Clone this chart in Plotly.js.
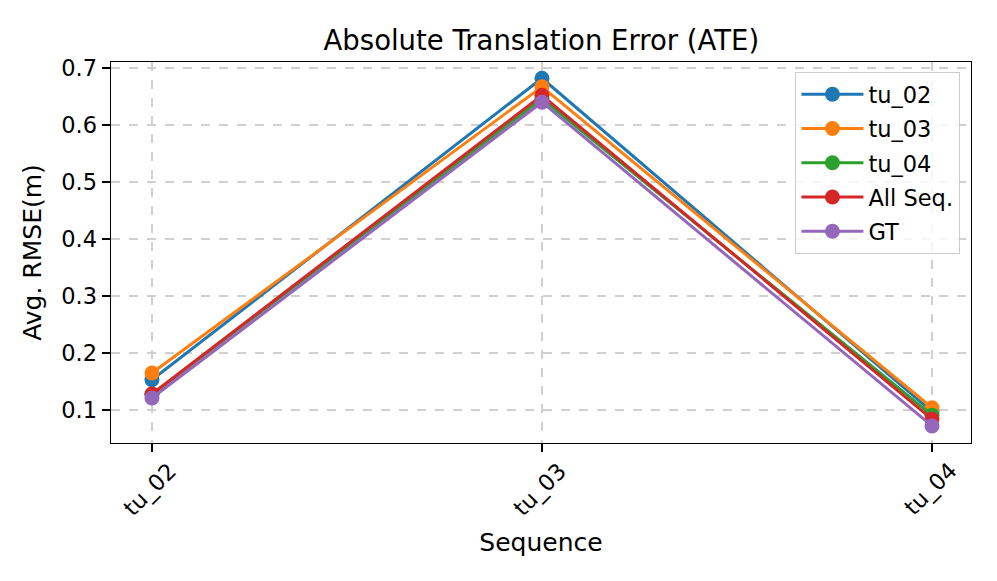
<!DOCTYPE html>
<html>
<head>
<meta charset="utf-8">
<script src="https://cdn.plot.ly/plotly-3.0.1.min.js"></script>
<style>html,body{margin:0;padding:0;background:#fff;}#chart{width:997px;height:581px;}</style>
</head>
<body>
<div id="chart"></div>
<script>
const sequences = ["tu_02", "tu_03", "tu_04"];
const seriesNames = ["tu_02", "tu_03", "tu_04", "All Seq.", "GT"];
const tu02 = [0.153, 0.682, 0.097];
const tu03 = [0.165, 0.667, 0.104];
const tu04 = [0.127, 0.646, 0.091];
const allSeq = [0.128, 0.652, 0.084];
const gt = [0.121, 0.640, 0.072];
const yTicks = [0.1, 0.2, 0.3, 0.4, 0.5, 0.6, 0.7];
const yTickLabels = ["0.1", "0.2", "0.3", "0.4", "0.5", "0.6", "0.7"];
const colors = ["#1f77b4", "#ff7f0e", "#2ca02c", "#d62728", "#9467bd"];
const values = [tu02, tu03, tu04, allSeq, gt];

const traces = values.map((v, i) => ({
  x: sequences,
  y: v,
  name: seriesNames[i],
  legendgroup: "g" + i,
  type: "scatter",
  mode: "lines+markers",
  line: {color: colors[i], width: 3},
  marker: {color: colors[i], size: 15}
}));

const font = "DejaVu Sans, sans-serif";
const tickAnnotations = sequences.map(s => ({
  x: s, xref: "x", y: 0, yref: "paper",
  text: s, showarrow: false, textangle: -45,
  xanchor: "center", yanchor: "middle",
  xshift: -2, yshift: -46,
  font: {family: font, size: 22.5, color: "#000"}
}));

const layout = {
  width: 997, height: 581,
  margin: {l: 111, r: 26, t: 62, b: 138},
  paper_bgcolor: "#fff", plot_bgcolor: "#fff",
  font: {family: font, size: 22.5, color: "#000"},
  title: {text: "Absolute Translation Error (ATE)", font: {family: font, size: 27.5}, x: 0.543, xanchor: "center", y: 0.931, yanchor: "middle", yref: "container"},
  xaxis: {
    type: "category",
    range: [-0.105, 2.1],
    showticklabels: false,
    ticks: "outside", ticklen: 8, tickcolor: "#000", tickwidth: 1.2,
    showline: true, linecolor: "#000", linewidth: 1.4, mirror: true,
    showgrid: true, gridcolor: "#d0d0d0", griddash: "dash", gridwidth: 1.2,
    zeroline: false,
    title: {text: "Sequence", font: {size: 25}, standoff: 82}
  },
  yaxis: {
    range: [0.0421, 0.7105],
    tickvals: yTicks,
    ticktext: yTickLabels,
    ticks: "outside", ticklen: 8, tickcolor: "#000", tickwidth: 1.2,
    showline: true, linecolor: "#000", linewidth: 1.4, mirror: true,
    showgrid: true, gridcolor: "#d0d0d0", griddash: "dash", gridwidth: 1.2,
    zeroline: false,
    tickfont: {size: 22.5},
    title: {text: "Avg. RMSE(m)", font: {size: 25}, standoff: 12}
  },
  annotations: tickAnnotations,
  legend: {
    x: 0.9875, xanchor: "right", y: 0.974, yanchor: "top",
    bgcolor: "rgba(255,255,255,0.8)", bordercolor: "#cccccc", borderwidth: 1.2,
    font: {size: 22.5}, itemwidth: 62, tracegroupgap: 2
  },
  showlegend: true
};

Plotly.newPlot("chart", traces, layout, {displayModeBar: false, staticPlot: true});
</script>
</body>
</html>
